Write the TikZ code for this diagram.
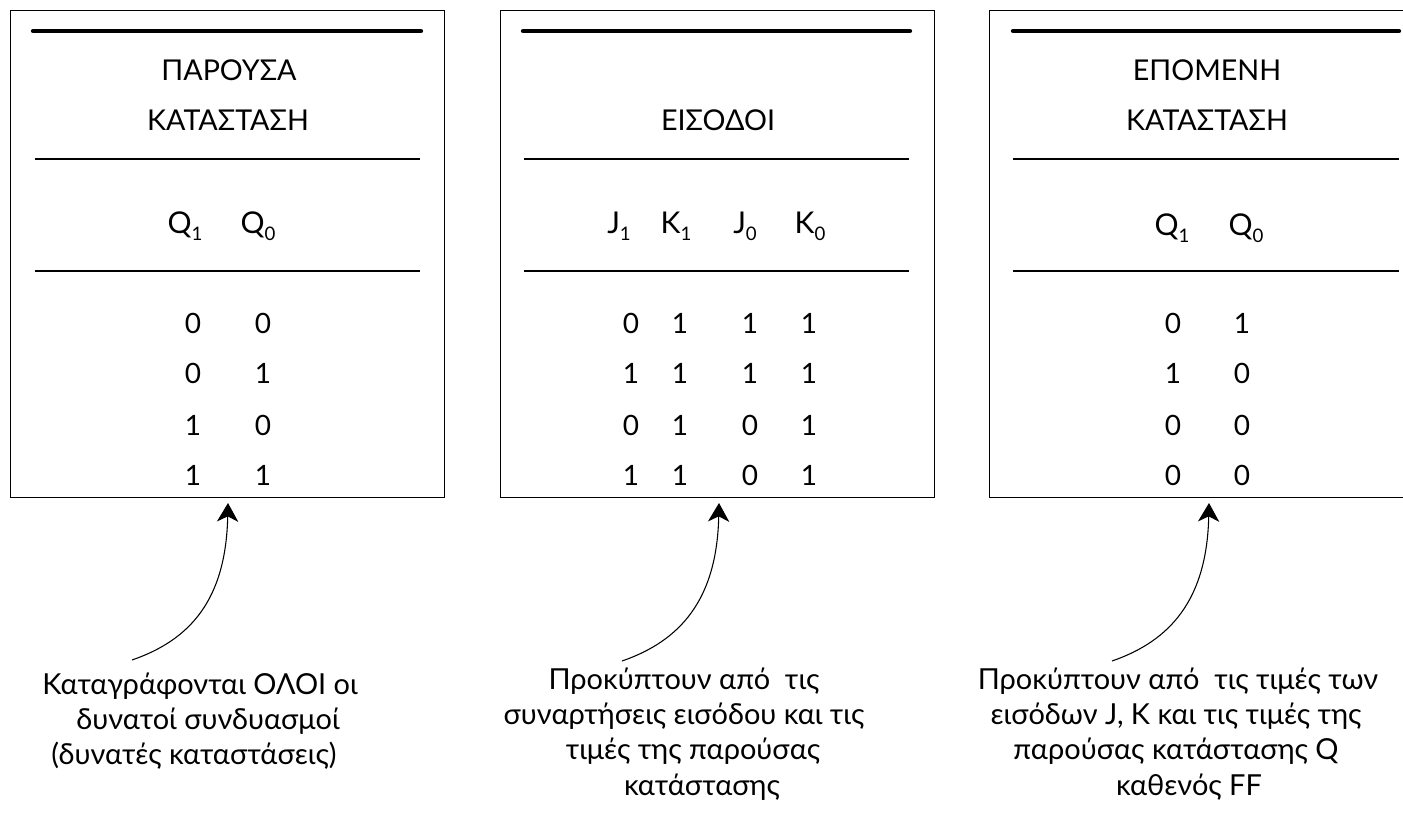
\documentclass[tikz,border=0pt]{standalone}
\usepackage{fontspec}
\setmainfont{Lato}
\usetikzlibrary{arrows.meta}
\newcommand\subdig[1]{\raisebox{-5.5pt}{\fontsize{14}{14}\selectfont #1}}
\tikzset{
  tbox/.style={draw, line width=1.1pt, inner sep=0pt, anchor=north west,
    minimum width=325.5pt, minimum height=365.25pt},
  thickrule/.style={line width=3.2pt, line cap=round},
  thinrule/.style={line width=1pt},
  head/.style={inner sep=0pt, anchor=base, font=\fontsize{21.5}{21.5}\selectfont},
  colhead/.style={inner sep=0pt, anchor=base, font=\fontsize{22.5}{22.5}\selectfont},
  cell/.style={inner sep=0pt, anchor=base, font=\fontsize{21}{21}\selectfont},
  note/.style={inner sep=0pt, anchor=base, font=\fontsize{21.7}{21.7}\selectfont},
  arr/.style={line width=0.8pt, -{Stealth[length=14pt, width=16pt, inset=4pt]}}
}
\begin{document}
\begin{tikzpicture}[x=0.75pt, y=-0.75pt]
\clip (0,0) rectangle (1403,821);
\fill[white] (0,0) rectangle (1403,821);

% boxes
\node[tbox] (b1) at (10,10) {};
\node[tbox] (b2) at (500,10) {};
\node[tbox] (b3) at (989,10) {};

% rules
\draw[thickrule] (33,31) -- (421,31);
\draw[thickrule] (523,31) -- (910,31);
\draw[thickrule] (1013,31) -- (1399,31);
\foreach \y in {159,271} {
  \draw[thinrule] (35,\y) -- (420,\y);
  \draw[thinrule] (524,\y) -- (909,\y);
  \draw[thinrule] (1013,\y) -- (1399,\y);
}

% headers
\node[head] (h1a) at (229,80) {ΠΑΡΟΥΣΑ};
\node[head] (h1b) at (228,130) {ΚΑΤΑΣΤΑΣΗ};
\node[head] (h2a) at (718,130) {ΕΙΣΟΔΟΙ};
\node[head] (h3a) at (1207,80) {ΕΠΟΜΕΝΗ};
\node[head] (h3b) at (1207,130) {ΚΑΤΑΣΤΑΣΗ};

% column headings
\node[colhead] (q1a) at (185,233) {Q\subdig{1}};
\node[colhead] (q0a) at (258,233) {Q\subdig{0}};
\node[colhead] (j1) at (619,233) {J\subdig{1}};
\node[colhead] (k1) at (676,233) {K\subdig{1}};
\node[colhead] (j0) at (745,233) {J\subdig{0}};
\node[colhead] (k0) at (810,233) {K\subdig{0}};
\node[colhead] (q1c) at (1172,235) {Q\subdig{1}};
\node[colhead] (q0c) at (1246,235) {Q\subdig{0}};

% data
\foreach \y/\a/\b [count=\i] in {333/0/0, 383/0/1, 435/1/0, 485/1/1} {
  \node[cell] (pa\i) at (193,\y) {\a};
  \node[cell] (pb\i) at (263,\y) {\b};
}
\foreach \y/\a/\b/\c/\d [count=\i] in {333/0/1/1/1, 383/1/1/1/1, 435/0/1/0/1, 485/1/1/0/1} {
  \node[cell] (ia\i) at (631,\y) {\a};
  \node[cell] (ib\i) at (680,\y) {\b};
  \node[cell] (ic\i) at (750,\y) {\c};
  \node[cell] (id\i) at (809,\y) {\d};
}
\foreach \y/\a/\b [count=\i] in {333/0/1, 383/1/0, 435/0/0, 485/0/0} {
  \node[cell] (na\i) at (1173,\y) {\a};
  \node[cell] (nb\i) at (1242,\y) {\b};
}

% annotations
\node[note] (n1a) at (200,694) {Καταγράφονται ΟΛΟΙ οι};
\node[note] (n1b) at (208,729) {δυνατοί συνδυασμοί};
\node[note] (n1c) at (194,764) {(δυνατές καταστάσεις)};

\node[note] (n2a) at (684,689) {Προκύπτουν από\ \ τις};
\node[note] (n2b) at (684,724) {συναρτήσεις εισόδου και τις};
\node[note] (n2c) at (693,759) {τιμές της παρούσας};
\node[note] (n2d) at (702,795) {κατάστασης};

\node[note] (n3a) at (1178,689) {Προκύπτουν από\ \ τις τιμές των};
\node[note] (n3b) at (1176,724) {εισόδων J, K και τις τιμές της};
\node[note] (n3c) at (1176,759) {παρούσας κατάστασης Q};
\node[note] (n3d) at (1189,795) {καθενός FF};

% arrows
\coordinate (s1) at (132,660);
\coordinate (t1) at (228,503);
\coordinate (s2) at (622,661);
\coordinate (t2) at (719,503);
\coordinate (s3) at (1112,661);
\coordinate (t3) at (1209,503);
\draw[arr] (s1) .. controls +(58,-20) and +(-2,97) .. (t1);
\draw[arr] (s2) .. controls +(58,-20) and +(-2,97) .. (t2);
\draw[arr] (s3) .. controls +(58,-20) and +(-2,97) .. (t3);
\end{tikzpicture}
\end{document}
